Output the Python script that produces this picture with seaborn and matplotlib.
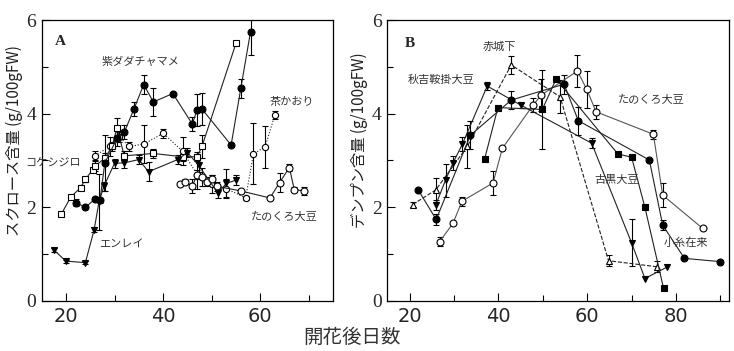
import numpy as np
import pandas as pd
import seaborn as sns
import matplotlib.pyplot as plt
from matplotlib.ticker import MultipleLocator

sns.set_theme(style="ticks")
plt.rcParams['font.family'] = ['Noto Sans CJK JP', 'DejaVu Sans']

# ---- panel A : sucrose ----
murasaki_x = [22, 24, 26, 27, 28, 30.5, 32, 34, 36, 38, 42, 46, 47, 48, 54, 56, 58]
murasaki_y = [2.1, 2.0, 2.18, 2.15, 2.95, 3.47, 3.6, 4.1, 4.62, 4.25, 4.43, 3.78, 4.08, 4.1, 3.33, 4.54, 5.75]
murasaki_e = [0.08, 0, 0.05, 0.05, 0.6, 0.15, 0.15, 0.15, 0.2, 0.3, 0, 0.15, 0.35, 0.35, 0, 0.2, 0.5]

kokeshi_x = [19, 21, 23, 24, 25.5, 26, 28, 29.5, 30.5, 32, 38, 44, 47, 48, 55]
kokeshi_y = [1.85, 2.22, 2.42, 2.6, 2.8, 2.88, 3.05, 3.3, 3.7, 3.1, 3.15, 3.08, 3.08, 3.3, 5.5]
kokeshi_e = [0, 0.05, 0.05, 0.05, 0.05, 0.1, 0.1, 0.1, 0.2, 0.1, 0.1, 0.1, 0.1, 0.25, 0]

enrei_x = [17.5, 20, 24, 25.8, 26.8, 27.8, 30, 32, 35, 37, 43, 45, 47.3, 51.3, 53, 55]
enrei_y = [1.09, 0.85, 0.82, 1.52, 2.12, 2.45, 2.94, 2.95, 3.02, 2.76, 3.02, 3.17, 2.9, 2.3, 2.51, 2.58]
enrei_e = [0.05, 0.03, 0.03, 0.05, 0.6, 0.1, 0.1, 0.1, 0.1, 0.2, 0.1, 0.1, 0.15, 0.1, 0.3, 0.1]

tanokuroA_x = [43.5, 44.5, 46, 47, 48, 49, 50, 51, 56, 62, 64, 66, 67, 69]
tanokuroA_y = [2.5, 2.55, 2.45, 2.7, 2.65, 2.55, 2.6, 2.45, 2.35, 2.2, 2.53, 2.85, 2.38, 2.35]
tanokuroA_e = [0, 0.05, 0.15, 0.1, 0.2, 0.1, 0.1, 0.1, 0, 0.05, 0.2, 0.08, 0.05, 0.08]

chakaori_x = [26, 29, 31, 33, 36, 40, 44, 47, 50, 53, 57, 58.6, 61, 63]
chakaori_y = [3.1, 3.3, 3.5, 3.3, 3.35, 3.58, 3.2, 2.7, 2.5, 2.4, 2.2, 3.14, 3.29, 3.97]
chakaori_e = [0.1, 0.2, 0.1, 0.1, 0.4, 0.1, 0.3, 0.3, 0.2, 0.2, 0.05, 0.65, 0.45, 0.08]

# ---- panel B : starch ----
akagi_x = [20.7, 25.9, 33, 42.9, 53.9, 64.8, 75.8]
akagi_y = [2.06, 2.37, 3.3, 5.04, 4.36, 0.86, 0.73]
akagi_e = [0.05, 0.25, 0.45, 0.2, 0.35, 0.12, 0.12]

akiyoshi_x = [25.9, 28.1, 29.8, 31.9, 37.5, 45.1, 61.0, 70.0, 73.0, 77.9]
akiyoshi_y = [2.05, 2.58, 2.95, 3.35, 4.59, 4.18, 3.37, 1.24, 0.48, 0.72]
akiyoshi_e = [0.1, 0.35, 0.15, 0.15, 0.08, 0.05, 0.1, 0.5, 0, 0]

koito_x = [21.9, 26.0, 33.7, 42.9, 54.8, 58.0, 74.0, 77.0, 81.9, 90.0]
koito_y = [2.38, 1.74, 3.54, 4.29, 4.63, 3.85, 3.01, 1.62, 0.91, 0.84]
koito_e = [0, 0.12, 0.3, 0.2, 0.2, 0.3, 0, 0.1, 0, 0]

furuguro_x = [36.9, 39.9, 49.9, 53.0, 66.9, 70.0, 73.0, 77.2]
furuguro_y = [3.03, 4.13, 4.09, 4.74, 3.14, 3.07, 2.0, 0.27]
furuguro_e = [0, 0, 0.85, 0, 0, 0, 0, 0]

tanokuroB_x = [26.8, 29.8, 31.8, 38.8, 40.9, 47.8, 49.7, 57.8, 59.9, 62.0, 74.9, 77.0, 86.0]
tanokuroB_y = [1.27, 1.66, 2.13, 2.52, 3.26, 4.18, 4.40, 4.91, 4.52, 4.04, 3.56, 2.26, 1.55]
tanokuroB_e = [0.1, 0, 0.1, 0.25, 0, 0.15, 0.35, 0.35, 0.4, 0.15, 0.1, 0.25, 0]


def draw(ax, x, y, err, marker, fill, ls='-', size=5, lc='#222222'):
    df = pd.DataFrame({'x': x, 'y': y, 'e': err})
    eb = df[df['e'] > 0]
    ax.errorbar(eb['x'], eb['y'], yerr=eb['e'], fmt='none', ecolor='black',
                elinewidth=0.8, capsize=2.5, capthick=0.8, zorder=2)
    sns.lineplot(data=df, x='x', y='y', ax=ax, sort=False, estimator=None,
                 color=lc, lw=0.8, linestyle=ls, marker=marker, markersize=size,
                 markerfacecolor='black' if fill else 'white',
                 markeredgecolor='black', markeredgewidth=0.8, zorder=3)


fig = plt.figure(figsize=(7.34, 3.51), dpi=100)
axA = fig.add_axes([0.0568, 0.1425, 0.397, 0.8005])
axB = fig.add_axes([0.5277, 0.1425, 0.4659, 0.8005])

draw(axA, chakaori_x, chakaori_y, chakaori_e, 'o', False, ls=':', size=4.5)
draw(axA, tanokuroA_x, tanokuroA_y, tanokuroA_e, 'o', False)
draw(axA, kokeshi_x, kokeshi_y, kokeshi_e, 's', False)
draw(axA, enrei_x, enrei_y, enrei_e, 'v', True)
draw(axA, murasaki_x, murasaki_y, murasaki_e, 'o', True)

draw(axB, akagi_x, akagi_y, akagi_e, '^', False, ls='--')
draw(axB, tanokuroB_x, tanokuroB_y, tanokuroB_e, 'o', False, lc='#555555')
draw(axB, akiyoshi_x, akiyoshi_y, akiyoshi_e, 'v', True)
draw(axB, furuguro_x, furuguro_y, furuguro_e, 's', True, size=4)
draw(axB, koito_x, koito_y, koito_e, 'o', True)

for ax, xmax, xt in [(axA, 75, [20, 40, 60]), (axB, 92, [20, 40, 60, 80])]:
    ax.set_xlim(15, xmax)
    ax.set_ylim(0, 6)
    ax.set_xticks(xt)
    ax.set_yticks([0, 2, 4, 6])
    ax.xaxis.set_minor_locator(MultipleLocator(10))
    ax.yaxis.set_minor_locator(MultipleLocator(1))
    ax.tick_params(which='both', direction='in', width=0.8, color='black',
                   top=False, right=False)
    ax.tick_params(which='major', length=6, pad=4)
    ax.tick_params(which='minor', length=4)
    for s in ax.spines.values():
        s.set_linewidth(0.9)
        s.set_color('black')
    ax.set_xlabel('')
    ax.set_ylabel('')
    for t in ax.get_xticklabels():
        t.set_fontfamily(['Liberation Sans Narrow', 'DejaVu Sans'])
        t.set_fontsize(14)
    for t in ax.get_yticklabels():
        t.set_fontfamily(['Liberation Serif', 'DejaVu Serif'])
        t.set_fontsize(14)

axA.text(0.046, 0.923, 'A', transform=axA.transAxes, family='Liberation Serif',
         fontweight='bold', fontsize=11, va='center')
axB.text(0.052, 0.917, 'B', transform=axB.transAxes, family='Liberation Serif',
         fontweight='bold', fontsize=11, va='center')

lab = dict(fontsize=8, color='#333333', ha='center', va='center')
axA.text(35.3, 5.1, '紫ダダチャマメ', **lab)
axA.text(66.6, 4.25, '茶かおり', **lab)
axA.text(17.4, 2.94, 'コケシジロ', clip_on=False, **lab)
axA.text(31.3, 1.2, 'エンレイ', **lab)
axA.text(65, 1.8, 'たのくろ大豆', **lab)

axB.text(40.3, 5.43, '赤城下', **lab)
axB.text(27.2, 4.72, '秋吉鞍掛大豆', **lab)
axB.text(74.5, 4.29, 'たのくろ大豆', **lab)
axB.text(66.6, 2.58, '古黒大豆', **lab)
axB.text(82.3, 1.24, '小糸在来', **lab)

fig.text(0.019, 0.60, 'スクロース含量 (g/100gFW)', rotation=90, fontsize=11,
         ha='center', va='center', color='#222222')
fig.text(0.490, 0.60, 'デンプン含量 (g/100gFW)', rotation=90, fontsize=11,
         ha='center', va='center', color='#222222')
fig.text(0.48, 0.04, '開花後日数', fontsize=14, ha='center', va='center', color='#333333')

fig.savefig('out.png', dpi=100)
